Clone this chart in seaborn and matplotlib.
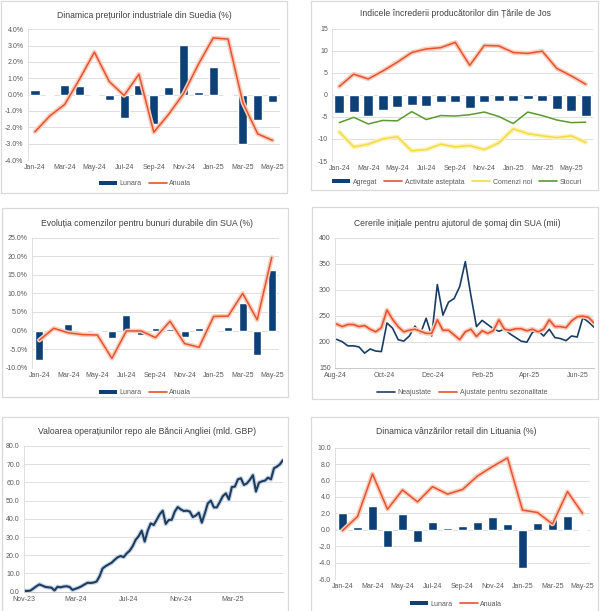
import numpy as np
import pandas as pd
import matplotlib
matplotlib.use('Agg')
import matplotlib.pyplot as plt
import matplotlib.dates as mdates
import matplotlib.patheffects as pe
from matplotlib.patches import Rectangle, Patch
from matplotlib.lines import Line2D
import seaborn as sns

# ---------------- DATA ----------------
months17 = ['Jan-24', 'Feb-24', 'Mar-24', 'Apr-24', 'May-24', 'Jun-24', 'Jul-24', 'Aug-24',
            'Sep-24', 'Oct-24', 'Nov-24', 'Dec-24', 'Jan-25', 'Feb-25', 'Mar-25', 'Apr-25', 'May-25']
months18 = months17 + ['Jun-25']

# Sweden industrial prices (%)
se_lunara = [0.3, 0.0, 0.6, 0.55, 0.0, -0.35, -1.4, 0.6, -1.8, 0.45, 3.05, 0.15, 1.7, -0.07, -3.0, -1.55, -0.45]
se_anuala = [-2.27, -1.3, -0.6, 0.95, 2.6, 0.8, -0.05, 1.25, -2.3, -1.2, 0.05, 1.85, 3.47, 3.4, -0.5, -2.4, -2.8]

# Netherlands producer confidence
nl_agregat = [-4.1, -4.0, -4.7, -3.4, -2.7, -2.3, -2.6, -1.7, -1.6, -2.9, -1.7, -1.5, -1.5, -1.0, -1.3, -3.1, -3.7, -4.9]
nl_activitate = [1.9, 4.7, 3.6, 5.4, 7.4, 9.6, 10.4, 10.7, 11.9, 6.7, 11.2, 11.1, 9.6, 9.4, 9.9, 6.0, 4.3, 2.4]
nl_comenzi = [-8.4, -11.8, -11.2, -10.0, -9.5, -12.7, -12.4, -11.2, -11.8, -11.5, -12.4, -10.9, -7.7, -8.8, -9.3, -9.7, -9.3, -10.8]
nl_stocuri = [-6.3, -5.1, -6.6, -5.8, -5.9, -3.8, -5.6, -4.7, -4.8, -4.5, -3.9, -4.9, -6.5, -3.9, -4.7, -5.7, -6.3, -6.2]

# US durable goods orders (%)
us_lunara = [-7.8, 0.1, 1.7, -0.3, 0.1, -2.0, 4.2, -1.2, 0.8, 0.3, -1.7, 0.8, -0.1, 0.9, 7.5, -6.7, 16.4]
us_anuala = [-2.6, 0.6, -0.6, -1.1, -1.2, -7.5, -0.1, -0.1, -1.9, 2.5, -3.5, -4.5, 3.8, 3.9, 10.0, 2.9, 19.7]

# US initial jobless claims (thousands), weekly from 3 Aug 2024
claims_start = '2024-08-03'
claims_nsa = [204.5, 200, 192, 192, 190, 178, 186, 182, 181, 236, 226, 204, 201, 211, 230, 216, 245, 211,
              310, 251, 276, 283, 306, 354, 289, 229, 241, 233, 225, 220, 224, 215, 208, 201, 199, 218,
              221, 211, 224, 208, 206, 202, 211, 209, 246, 238, 228]
claims_sa = [234, 229, 233, 233, 229, 231, 224, 219, 227, 261, 243, 229, 219, 222, 224, 220, 216, 216,
             242, 222, 222, 213, 204, 219, 224, 210, 221, 216, 221, 242, 224, 222, 225, 225, 221, 224,
             219, 224, 242, 229, 229, 227, 240, 248, 249, 247, 236]

# Bank of England repo operations (bn GBP), weekly from 2 Nov 2023
repo_start = '2023-11-02'
repo_vals = [0.5, 0.4, 0.6, 1.8, 3.0, 4.0, 3.3, 2.6, 2.4, 2.2,
             0.7, 2.7, 2.4, 2.8, 3.0, 2.6, 1.0, 1.6, 2.2, 3.0,
             4.0, 4.9, 4.8, 5.0, 5.6, 8.5, 12.8, 14.0, 15.0, 15.9,
             17.5, 18.9, 19.6, 19.0, 21.0, 22.5, 25.0, 28.5, 30.5, 33.5,
             27.5, 33.5, 37.5, 36.6, 39.5, 42.5, 44.5, 37.2, 39.4, 39.5,
             44.0, 46.5, 45.2, 44.3, 44.5, 44.0, 41.0, 41.8, 43.4, 37.9,
             43.0, 48.5, 50.0, 46.3, 46.3, 49.3, 52.5, 54.0, 50.6, 57.5,
             57.7, 61.7, 62.3, 58.6, 59.5, 61.5, 64.0, 55.0, 59.9, 60.6,
             61.0, 62.6, 61.7, 67.8, 68.7, 70.0, 72.3]

# Lithuania retail sales (%)
lt_lunara = [2.1, 0.35, 2.85, -2.15, 1.9, -1.45, 0.9, 0.2, 0.5, 0.9, 1.6, 0.75, -4.65, 0.8, 1.3, 1.7, -0.08]
lt_anuala = [-0.1, 1.6, 6.8, 2.5, 4.85, 3.4, 5.25, 4.35, 4.9, 6.55, 7.7, 8.75, 2.4, 2.1, 0.7, 4.65, 2.0]

titles = ['Dinamica prețurilor industriale din Suedia (%)',
          'Indicele încrederii producătorilor din Țările de Jos',
          'Evoluția comenzilor pentru bunuri durabile din SUA (%)',
          'Cererile inițiale pentru ajutorul de șomaj din SUA (mii)',
          'Valoarea operațiunilor repo ale Băncii Angliei (mld. GBP)',
          'Dinamica vânzărilor retail din Lituania (%)']

# ---------------- STYLE ----------------
sns.set_theme(style='white')
plt.rcParams['font.family'] = ['Liberation Sans', 'DejaVu Sans']
plt.rcParams['axes.unicode_minus'] = False

BLUE = '#0d4077'
ORANGE = '#e8522f'
ORANGE_GLOW = '#f9cdbb'
YELLOW = '#f2dc3c'
YELLOW_GLOW = '#fbf1bd'
GREEN = '#5c9a2e'
NAVY = '#1c3d63'
NAVY_GLOW = '#c9d3e0'
GRID = '#d9d9d9'
TICK = '#595959'
TITLE = '#404040'
TFS = 6.2
FS = 5.0

W, H = 600, 611
fig = plt.figure(figsize=(W / 100, H / 100), dpi=100)
fig.patch.set_facecolor('white')


def ax_at(x0, y0, x1, y1):
    return fig.add_axes([x0 / W, 1 - y1 / H, (x1 - x0) / W, (y1 - y0) / H])


def frame(x0, y0, x1, y1):
    fig.add_artist(Rectangle((x0 / W, 1 - y1 / H), (x1 - x0) / W, (y1 - y0) / H,
                             transform=fig.transFigure, fill=False, edgecolor=GRID, lw=0.9))


def title(cx, cy, text):
    fig.text(cx / W, 1 - cy / H, text, ha='center', va='center', fontsize=TFS, color=TITLE)


def legend(cx, cy, handles, labels):
    fig.legend(handles, labels, loc='center', bbox_to_anchor=(cx / W, 1 - cy / H), ncol=len(handles),
               frameon=False, fontsize=FS, handlelength=2.6, handleheight=0.55, columnspacing=1.0,
               handletextpad=0.4, labelcolor=TICK, borderaxespad=0, borderpad=0)


def glow(line, color, w):
    line.set_path_effects([pe.Stroke(linewidth=w, foreground=color), pe.Normal()])


def style(ax, lo, hi, step, fmt, bottom_spine=False):
    ticks = np.arange(lo, hi + step / 2, step)
    ax.set_ylim(lo, hi)
    ax.set_yticks(ticks)
    ax.set_yticklabels([fmt.format(v) for v in ticks])
    ax.grid(axis='y', color=GRID, lw=0.6)
    ax.grid(axis='x', visible=False)
    ax.set_axisbelow(True)
    for s in ['top', 'right']:
        ax.spines[s].set_visible(False)
    ax.spines['bottom'].set_visible(bottom_spine)
    ax.spines['bottom'].set_color('#bfbfbf')
    ax.spines['bottom'].set_linewidth(0.6)
    ax.spines['left'].set_color(GRID)
    ax.spines['left'].set_linewidth(0.6)
    ax.tick_params(length=0, labelsize=FS, colors=TICK, pad=3)
    ax.set_xlabel('')
    ax.set_ylabel('')
    ax.set_facecolor('none')


def bar_line(box, months, bars, series, width):
    ax = ax_at(*box)
    idx = np.arange(len(months))
    sns.barplot(x=idx, y=bars, color=BLUE, saturation=1, width=width, ax=ax)
    for vals, col, gcol, lw in series:
        sns.lineplot(x=idx, y=vals, color=col, lw=lw, ax=ax)
        if gcol:
            glow(ax.lines[-1], gcol, lw + 2.2)
    ax.set_xlim(-0.5, len(months) - 0.5)
    ax.set_xticks(idx[::2])
    ax.set_xticklabels(months[::2])
    return ax


bar_h = Patch(facecolor=BLUE, edgecolor='none')


def line_h(c):
    return Line2D([], [], color=c, lw=1.2)


# ---- Panel 1: Sweden ----
frame(1, 1, 287, 193)
title(144, 15, titles[0])
ax1 = bar_line((27.6, 29.3, 280, 160), months17, se_lunara, [(se_anuala, ORANGE, ORANGE_GLOW, 1.1)], 0.62)
style(ax1, -4, 4, 1, '{:.1f}%')
legend(145, 184, [bar_h, line_h(ORANGE)], ['Lunara', 'Anuala'])

# ---- Panel 2: Netherlands ----
frame(311, 1, 598, 190)
title(456, 14, titles[1])
ax2 = bar_line((332, 28.7, 593, 161), months18, nl_agregat,
               [(nl_activitate, ORANGE, ORANGE_GLOW, 1.1),
                (nl_comenzi, YELLOW, YELLOW_GLOW, 1.1),
                (nl_stocuri, GREEN, None, 1.1)], 0.7)
style(ax2, -15, 15, 5, '{:.0f}')
legend(457, 182, [bar_h, line_h(ORANGE), line_h(YELLOW), line_h(GREEN)],
       ['Agregat', 'Activitate asteptata', 'Comenzi noi', 'Stocuri'])

# ---- Panel 3: US durable goods ----
frame(2, 208, 288, 397)
title(147, 223, titles[2])
ax3 = bar_line((32, 237.7, 279, 367.7), months17, us_lunara, [(us_anuala, ORANGE, ORANGE_GLOW, 1.1)], 0.55)
style(ax3, -10, 25, 5, '{:.1f}%')
legend(145, 393, [bar_h, line_h(ORANGE)], ['Lunara', 'Anuala'])

# ---- Panel 4: US jobless claims ----
frame(312, 207, 598, 399)
title(457, 223, titles[3])
ax4 = ax_at(335, 237.7, 594, 367.7)
claims_dates = pd.date_range(claims_start, periods=len(claims_nsa), freq='7D')
sns.lineplot(x=claims_dates, y=claims_sa, color=ORANGE, lw=1.2, ax=ax4)
glow(ax4.lines[-1], ORANGE_GLOW, 3.4)
sns.lineplot(x=claims_dates, y=claims_nsa, color=NAVY, lw=1.2, ax=ax4)
ax4.lines[-1].set_zorder(1.5)
ax4.lines[0].set_zorder(3)
ax4.set_xlim(pd.Timestamp('2024-08-01'), claims_dates[-1])
ax4.xaxis.set_major_locator(mdates.MonthLocator(bymonth=[2, 4, 6, 8, 10, 12]))
ax4.xaxis.set_major_formatter(mdates.DateFormatter('%b-%y'))
style(ax4, 150, 400, 50, '{:.0f}', bottom_spine=True)
legend(462, 393, [line_h(NAVY), line_h(ORANGE)], ['Neajustate', 'Ajustate pentru sezonalitate'])

# ---- Panel 5: BoE repo ----
frame(2, 417, 288, 612)
title(147, 432, titles[4])
ax5 = ax_at(24, 446, 283, 591.7)
repo_dates = pd.date_range(repo_start, periods=len(repo_vals), freq='7D')
sns.lineplot(x=repo_dates, y=repo_vals, color=NAVY, lw=1.5, ax=ax5)
glow(ax5.lines[-1], NAVY_GLOW, 3.2)
ax5.set_xlim(pd.Timestamp('2023-11-01'), repo_dates[-1])
ax5.xaxis.set_major_locator(mdates.MonthLocator(bymonth=[3, 7, 11]))
ax5.xaxis.set_major_formatter(mdates.DateFormatter('%b-%y'))
style(ax5, 0, 80, 10, '{:.1f}', bottom_spine=True)

# ---- Panel 6: Lithuania ----
frame(311, 417, 598, 612)
title(456, 432, titles[5])
ax6 = bar_line((335, 447.7, 590, 579), months17, lt_lunara, [(lt_anuala, ORANGE, ORANGE_GLOW, 1.1)], 0.58)
style(ax6, -6, 10, 2, '{:.1f}')
legend(456, 604, [bar_h, line_h(ORANGE)], ['Lunara', 'Anuala'])

fig.savefig('out.png', dpi=100, facecolor='white')
